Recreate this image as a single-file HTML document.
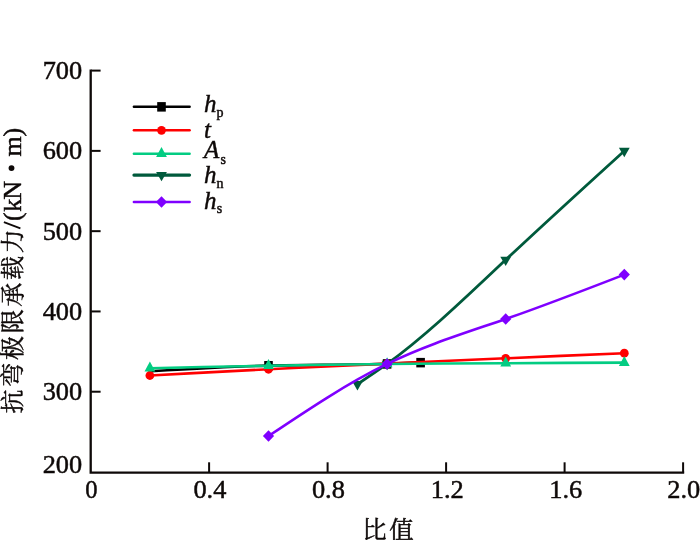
<!DOCTYPE html>
<html><head><meta charset="utf-8"><title>chart</title>
<style>html,body{margin:0;padding:0;background:#fff;}body{width:700px;height:540px;overflow:hidden;}svg{display:block;will-change:transform;}text{font-family:"Liberation Serif","Noto Serif CJK SC",serif;fill:#0e0908;stroke:#0e0908;stroke-width:0.45px;}</style>
</head><body>
<svg width="700" height="540" viewBox="0 0 700 540">
<rect width="700" height="540" fill="#ffffff"/>
<g stroke="#0e0908" stroke-width="2.3" fill="none" stroke-linecap="butt">
<path d="M90.70 69.60 V472.60 H684.20"/>
</g>
<g stroke="#0e0908" stroke-width="2" fill="none">
<path d="M91.20 391.72 H100.60"/>
<path d="M91.20 311.44 H100.60"/>
<path d="M91.20 231.16 H100.60"/>
<path d="M91.20 150.88 H100.60"/>
<path d="M91.20 70.60 H100.60"/>
<path d="M209.10 472.40 V462.30"/>
<path d="M327.60 472.40 V462.30"/>
<path d="M446.10 472.40 V462.30"/>
<path d="M564.60 472.40 V462.30"/>
<path d="M683.10 472.40 V462.30"/>
</g>
<g font-size="25" text-anchor="end">
<text x="82.2" y="400.12" textLength="39.5" lengthAdjust="spacingAndGlyphs">300</text>
<text x="82.2" y="319.84" textLength="39.5" lengthAdjust="spacingAndGlyphs">400</text>
<text x="82.2" y="239.56" textLength="39.5" lengthAdjust="spacingAndGlyphs">500</text>
<text x="82.2" y="159.28" textLength="39.5" lengthAdjust="spacingAndGlyphs">600</text>
<text x="82.2" y="79.00" textLength="39.5" lengthAdjust="spacingAndGlyphs">700</text>
<text x="82.2" y="472.9" textLength="39.5" lengthAdjust="spacingAndGlyphs">200</text>
</g>
<g font-size="24.6" text-anchor="middle">
<text x="91.3" y="497.7">0</text>
<text x="209.90" y="497.7" textLength="33" lengthAdjust="spacingAndGlyphs">0.4</text>
<text x="328.40" y="497.7" textLength="33" lengthAdjust="spacingAndGlyphs">0.8</text>
<text x="447.30" y="497.7" textLength="33" lengthAdjust="spacingAndGlyphs">1.2</text>
<text x="565.70" y="497.7" textLength="33" lengthAdjust="spacingAndGlyphs">1.6</text>
<text x="667.3" y="497.7" text-anchor="start" textLength="33" lengthAdjust="spacingAndGlyphs">2.0</text>
</g>
<path d="M149.90 371.33 C189.43 368.98 228.97 366.62 268.50 365.63 C308.03 364.64 347.57 365.00 387.10 363.78 C398.27 363.44 409.44 362.97 420.60 362.50" fill="none" stroke="#000000" stroke-width="2.6" stroke-linecap="round" stroke-linejoin="round"/>
<rect x="264.20" y="361.03" width="8.6" height="9.5" fill="#000000"/>
<rect x="382.80" y="359.18" width="8.6" height="9.5" fill="#000000"/>
<rect x="416.30" y="357.90" width="8.6" height="9.5" fill="#000000"/>
<path d="M149.90 375.50 C189.43 373.37 228.97 371.23 268.50 369.24 C308.03 367.26 347.57 365.42 387.10 363.62 C426.63 361.82 466.17 360.06 505.70 358.32 C545.23 356.59 584.77 354.89 624.30 353.19" fill="none" stroke="#ff0000" stroke-width="2.6" stroke-linecap="round" stroke-linejoin="round"/>
<circle cx="149.90" cy="375.50" r="4.4" fill="#ff0000"/>
<circle cx="268.50" cy="369.24" r="4.4" fill="#ff0000"/>
<circle cx="387.10" cy="363.62" r="4.4" fill="#ff0000"/>
<circle cx="505.70" cy="358.32" r="4.4" fill="#ff0000"/>
<circle cx="624.30" cy="353.19" r="4.4" fill="#ff0000"/>
<path d="M149.90 368.20 C189.43 367.33 228.97 366.46 268.50 365.71 C308.03 364.96 347.57 364.33 387.10 363.94 C426.63 363.56 466.17 363.41 505.70 363.22 C545.23 363.03 584.77 362.81 624.30 362.58" fill="none" stroke="#03cc82" stroke-width="2.6" stroke-linecap="round" stroke-linejoin="round"/>
<path d="M149.90 361.53 L155.30 371.53 L144.50 371.53 Z" fill="#03cc82"/>
<path d="M268.50 359.04 L273.90 369.04 L263.10 369.04 Z" fill="#03cc82"/>
<path d="M387.10 357.28 L392.50 367.28 L381.70 367.28 Z" fill="#03cc82"/>
<path d="M505.70 356.55 L511.10 366.55 L500.30 366.55 Z" fill="#03cc82"/>
<path d="M624.30 355.91 L629.70 365.91 L618.90 365.91 Z" fill="#03cc82"/>
<path d="M357.45 384.17 C367.33 377.63 377.22 371.09 387.10 363.94 C426.63 335.34 466.17 296.96 505.70 259.82 C545.23 222.68 584.77 186.78 624.30 150.88" fill="none" stroke="#005a3c" stroke-width="2.8" stroke-linecap="round" stroke-linejoin="round"/>
<path d="M357.45 390.44 L362.85 381.04 L352.05 381.04 Z" fill="#005a3c"/>
<path d="M387.10 370.21 L392.50 360.81 L381.70 360.81 Z" fill="#005a3c"/>
<path d="M505.70 266.09 L511.10 256.69 L500.30 256.69 Z" fill="#005a3c"/>
<path d="M624.30 157.15 L629.70 147.75 L618.90 147.75 Z" fill="#005a3c"/>
<path d="M268.50 436.03 C308.03 409.60 347.57 383.17 387.10 363.94 C426.63 344.71 466.17 332.68 505.70 318.99 C545.23 305.29 584.77 289.94 624.30 274.59" fill="none" stroke="#7f00ff" stroke-width="2.6" stroke-linecap="round" stroke-linejoin="round"/>
<path d="M268.50 430.23 L274.10 436.03 L268.50 441.83 L262.90 436.03 Z" fill="#7f00ff"/>
<path d="M387.10 358.14 L392.70 363.94 L387.10 369.74 L381.50 363.94 Z" fill="#7f00ff"/>
<path d="M505.70 313.19 L511.30 318.99 L505.70 324.79 L500.10 318.99 Z" fill="#7f00ff"/>
<path d="M624.30 268.79 L629.90 274.59 L624.30 280.39 L618.70 274.59 Z" fill="#7f00ff"/>
<path d="M133.9 106.70 H189.6" stroke="#000000" stroke-width="2.5" stroke-linecap="round"/>
<rect x="157.20" y="102.10" width="8.6" height="9.5" fill="#000000"/>
<path d="M133.9 130.30 H189.6" stroke="#ff0000" stroke-width="2.5" stroke-linecap="round"/>
<circle cx="161.50" cy="130.30" r="4.4" fill="#ff0000"/>
<path d="M133.9 153.70 H189.6" stroke="#03cc82" stroke-width="2.5" stroke-linecap="round"/>
<path d="M161.50 147.03 L166.90 157.03 L156.10 157.03 Z" fill="#03cc82"/>
<path d="M133.9 175.10 H189.6" stroke="#005a3c" stroke-width="3.1" stroke-linecap="round"/>
<path d="M161.50 181.37 L166.90 171.97 L156.10 171.97 Z" fill="#005a3c"/>
<path d="M133.9 202.00 H189.6" stroke="#7f00ff" stroke-width="2.5" stroke-linecap="round"/>
<path d="M161.50 196.20 L167.10 202.00 L161.50 207.80 L155.90 202.00 Z" fill="#7f00ff"/>
<text x="204" y="112.20" font-size="25" font-style="italic">h</text>
<text x="216.60" y="116.90" font-size="14">p</text>
<text x="204" y="137.60" font-size="25" font-style="italic">t</text>
<text x="204" y="157.70" font-size="25" font-style="italic">A</text>
<text x="220.60" y="163.50" font-size="14">s</text>
<text x="204" y="183.30" font-size="25" font-style="italic">h</text>
<text x="216.40" y="188.00" font-size="14">n</text>
<text x="204" y="208.50" font-size="25" font-style="italic">h</text>
<text x="216.70" y="213.20" font-size="14">s</text>
<text x="362.3" y="537.6" font-size="24.4" textLength="51.4" lengthAdjust="spacing">比值</text>
<text transform="translate(20.90,413.49) rotate(-90)" font-size="24" textLength="184.3" lengthAdjust="spacing">抗弯极限承载力</text>
<path d="M20.4 228.4 L3.9 222.1" stroke="#0e0908" stroke-width="1.7" fill="none"/>
<text transform="translate(20.80,221.10) rotate(-90)" font-size="26">(</text>
<text transform="translate(20.90,211.70) rotate(-90)" font-size="26">k</text>
<text transform="translate(20.70,199.70) rotate(-90)" font-size="26">N</text>
<circle cx="11.5" cy="168.1" r="2.95" fill="#0e0908"/>
<text transform="translate(20.70,156.60) rotate(-90)" font-size="26">m</text>
<text transform="translate(20.80,136.50) rotate(-90)" font-size="26">)</text>
</svg></body></html>
